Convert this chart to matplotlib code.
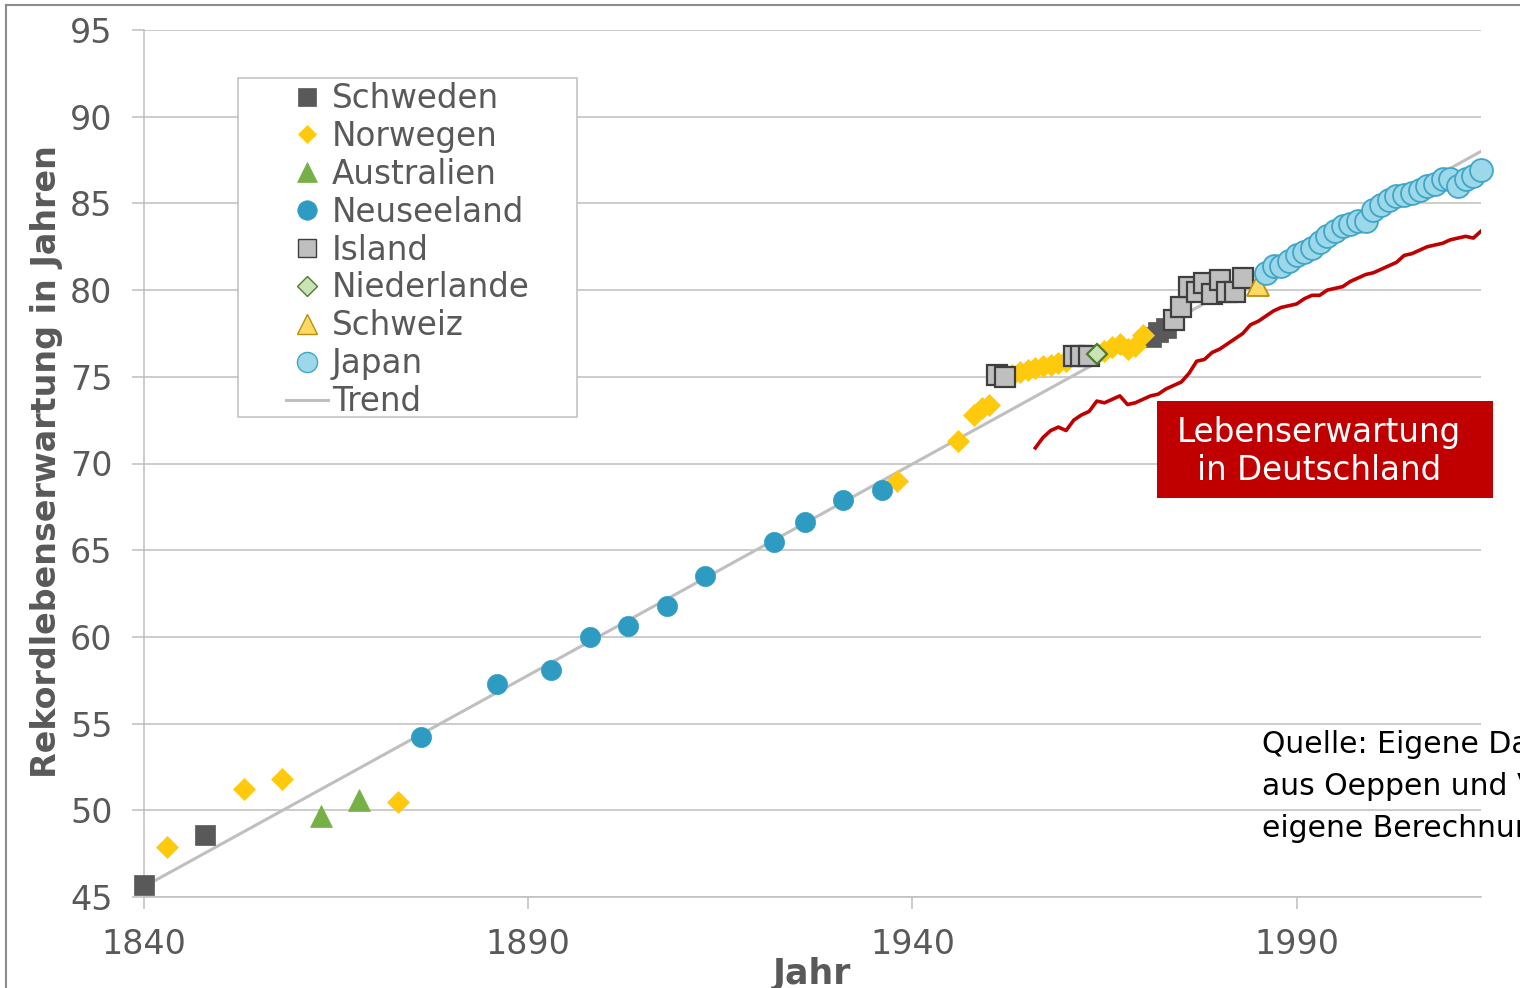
import matplotlib
matplotlib.use("Agg")
import matplotlib.pyplot as plt
from matplotlib.lines import Line2D
from matplotlib.patches import Rectangle

# --- Daten -------------------------------------------------------------------
schweden_jahr = [1840, 1848, 1971, 1972, 1973]
schweden_wert = [45.7, 48.6, 77.3, 77.6, 77.8]

norwegen_jahr = [1843, 1853, 1858, 1873, 1938, 1946, 1948, 1949, 1950,
                 1953, 1954, 1955, 1956, 1957, 1958, 1959, 1960,
                 1965, 1966, 1967, 1968, 1969, 1970]
norwegen_wert = [47.9, 51.2, 51.8, 50.5, 69.0, 71.3, 72.8, 73.2, 73.4,
                 75.1, 75.3, 75.4, 75.5, 75.6, 75.7, 75.8, 75.9,
                 76.5, 76.7, 76.9, 76.6, 76.8, 77.4]

australien_jahr = [1863, 1868]
australien_wert = [49.7, 50.6]

neuseeland_jahr = [1876, 1886, 1893, 1898, 1903, 1908, 1913, 1922, 1926, 1931, 1936]
neuseeland_wert = [54.2, 57.3, 58.1, 60.0, 60.6, 61.8, 63.5, 65.5, 66.6, 67.9, 68.5]

island_jahr = [1951, 1952, 1961, 1962, 1963,
               1974, 1975, 1976, 1977, 1978, 1979, 1980, 1981, 1982, 1983]
island_wert = [75.1, 75.0, 76.2, 76.2, 76.2,
               78.3, 79.0, 80.2, 79.9, 80.4, 79.8, 80.6, 79.9, 79.9, 80.7]

niederlande_jahr = [1964]
niederlande_wert = [76.3]

schweiz_jahr = [1985]
schweiz_wert = [80.3]

japan_jahr = list(range(1986, 2015))
japan_wert = [81.0, 81.4, 81.4, 81.7, 82.0, 82.2, 82.4, 82.8, 83.1, 83.4,
              83.7, 83.8, 84.0, 84.0, 84.6, 84.9, 85.2, 85.4, 85.5, 85.6,
              85.8, 86.0, 86.1, 86.4, 86.4, 86.0, 86.4, 86.6, 86.9]

trend_jahr = [1840, 2014]
trend_wert = [45.6, 88.0]

deutschland_jahr = list(range(1956, 2015))
deutschland_wert = [70.9, 71.5, 71.9, 72.1, 71.9, 72.5, 72.8, 73.0, 73.6, 73.5,
                    73.7, 73.9, 73.4, 73.5, 73.7, 73.9, 74.0, 74.3, 74.5, 74.7,
                    75.2, 75.9, 76.0, 76.4, 76.6, 76.9, 77.2, 77.5, 78.0, 78.2,
                    78.5, 78.8, 79.0, 79.1, 79.2, 79.5, 79.7, 79.7, 80.0, 80.1,
                    80.2, 80.5, 80.7, 80.9, 81.0, 81.2, 81.4, 81.6, 82.0, 82.1,
                    82.3, 82.5, 82.6, 82.7, 82.9, 83.0, 83.1, 83.0, 83.4]

x_ticks = [1840, 1890, 1940, 1990]
y_ticks = [45, 50, 55, 60, 65, 70, 75, 80, 85, 90, 95]

# im Original rechts abgeschnitten
quelle = ["Quelle: Eigene Darstellung mit Daten",
          "aus Oeppen und Vaupel (2002) und",
          "eigene Berechnungen"]

# --- Stil ----------------------------------------------------------------------
GRAU = "#BFBFBF"
TEXT = "#595959"
W, H = 1520, 988

# (Label, Jahre, Werte, Marker, Größe Plot, Größe Legende, Füllung, Rand, Randbreite)
serien = [
    ("Schweden", schweden_jahr, schweden_wert, "s", 15, 13.5, "#595959", "#595959", 0.5),
    ("Norwegen", norwegen_jahr, norwegen_wert, "D", 11.5, 9.5, "#FFC90E", "#FFC90E", 0.5),
    ("Australien", australien_jahr, australien_wert, "^", 16, 14, "#77B046", "#77B046", 0.5),
    ("Neuseeland", neuseeland_jahr, neuseeland_wert, "o", 14.5, 14, "#2E9CC2", "#2E9CC2", 0.5),
    ("Island", island_jahr, island_wert, "s", 14.5, 13, "#BFBFBF", "#3F3F3F", 1.6),
    ("Niederlande", niederlande_jahr, niederlande_wert, "D", 10, 10, "#C9E3B6", "#4E7A32", 1.6),
    ("Schweiz", schweiz_jahr, schweiz_wert, "^", 15.5, 14, "#FFD966", "#B8900B", 1.3),
    ("Japan", japan_jahr, japan_wert, "o", 16.5, 14.5, "#9DD8EA", "#3FA6C6", 1.3),
]

fig = plt.figure(figsize=(W / 100, H / 100), dpi=100)
ax = fig.add_axes([144 / W, 1 - 897 / H, (1481 - 144) / W, (897 - 30) / H])

ax.plot(trend_jahr, trend_wert, color=GRAU, lw=2.2, zorder=2)
ax.plot(deutschland_jahr, deutschland_wert, color="#C00000", lw=2.6, zorder=2)

handles = []
for i, (name, xs, ys, m, ms, ms_leg, fc, ec, ew) in enumerate(serien):
    ax.plot(xs, ys, ls="none", marker=m, ms=ms, mfc=fc, mec=ec, mew=ew,
            zorder=3 + i, clip_on=False)
    handles.append(Line2D([], [], ls="none", marker=m, ms=ms_leg, mfc=fc,
                          mec=ec, mew=min(ew, 1.0), label=name))
handles.append(Line2D([], [], color=GRAU, lw=2.2, label="Trend"))

ax.set_xlim(1840, 2014)
ax.set_ylim(45, 95)
ax.set_xticks(x_ticks)
ax.set_yticks(y_ticks)
ax.yaxis.grid(True, color=GRAU, lw=1.1)
ax.set_axisbelow(True)
for s in ["top", "right"]:
    ax.spines[s].set_visible(False)
for s in ["left", "bottom"]:
    ax.spines[s].set_color(GRAU)
    ax.spines[s].set_linewidth(1.1)
ax.tick_params(axis="y", length=8.6, width=1.1, color=GRAU, pad=14,
               labelsize=24, labelcolor=TEXT)
ax.tick_params(axis="x", length=8.6, width=1.1, color=GRAU, pad=14,
               labelsize=24, labelcolor=TEXT)

# Legende mit eigenem Rahmen
ax.add_patch(Rectangle(((238 - 144) / 1337, (897 - 417) / 867),
                       (577 - 238) / 1337, (417 - 78) / 867, transform=ax.transAxes,
                       facecolor="white", edgecolor=GRAU, lw=1.1, zorder=10, clip_on=False))
leg = ax.legend(handles=handles, loc="upper left",
                bbox_to_anchor=((286 - 144) / 1337, (897 - 82) / 867),
                frameon=False, fontsize=23.5, borderpad=0, borderaxespad=0,
                handlelength=1.3, handletextpad=0.1, labelspacing=0.15)
leg.set_zorder(11)
for t in leg.get_texts():
    t.set_color(TEXT)

# Achsentitel
fig.text(47 / W, 1 - 462 / H, "Rekordlebenserwartung in Jahren", rotation=90,
         ha="center", va="center", fontsize=24, fontweight="bold", color=TEXT)
fig.text(812 / W, 1 - 984 / H, "Jahr", ha="center", va="baseline",
         fontsize=25, fontweight="bold", color=TEXT)

# Kasten Deutschland
fig.add_artist(Rectangle((1157 / W, 1 - 498 / H), (1493 - 1157) / W, (498 - 401) / H,
                         transform=fig.transFigure, facecolor="#C00000",
                         edgecolor="none", zorder=20))
for txt, yp in [("Lebenserwartung", 432), ("in Deutschland", 471)]:
    fig.text(1319 / W, 1 - yp / H, txt, ha="center", va="center",
             fontsize=23.5, color="white", zorder=21)

# Quelle
for txt, yp in zip(quelle, [744, 786, 828]):
    fig.text(1262 / W, 1 - yp / H, txt, ha="left", va="center",
             fontsize=21.5, color="black")

# Rahmen des Diagrammbereichs
fig.add_artist(Line2D([5.5 / W, 5.5 / W], [0, 1 - 5.5 / H], transform=fig.transFigure,
                      color="#8C8C8C", lw=1.5))
fig.add_artist(Line2D([5.5 / W, 1], [1 - 5.5 / H, 1 - 5.5 / H], transform=fig.transFigure,
                      color="#8C8C8C", lw=1.5))

fig.savefig("out.png", dpi=100)
